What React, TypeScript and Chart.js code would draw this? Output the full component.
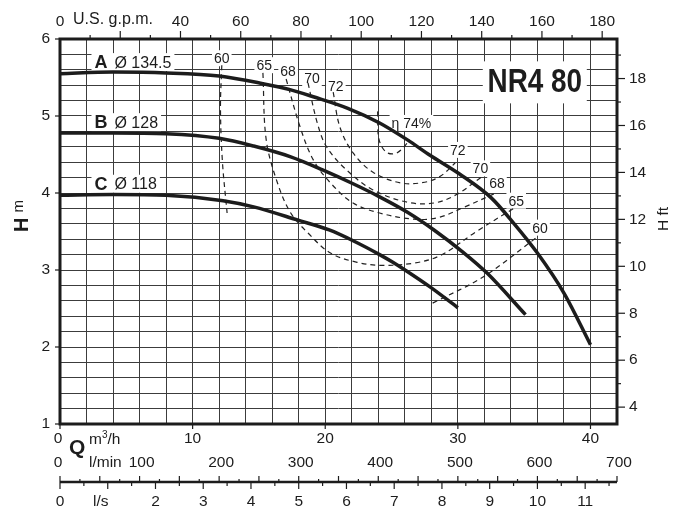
import React, { useEffect, useRef } from 'react';
import { Chart, registerables } from 'chart.js';

Chart.register(...registerables);

const FONT = '"Liberation Sans", Arial, Helvetica, sans-serif';
const INK = '#1c1c1c';

// Pump curves: Q (m3/h) vs H (m)
const flowA = [0, 4, 8, 12, 15.3, 17.4, 19.1, 21.7, 24.1, 26.2, 27.9, 30.1, 32.5, 34.2, 36.0, 38.0, 40.0];
const headA = [5.55, 5.57, 5.56, 5.52, 5.42, 5.34, 5.25, 5.10, 4.91, 4.69, 4.49, 4.25, 3.94, 3.61, 3.22, 2.70, 2.03];
const flowB = [0, 4, 8, 12, 14.6, 17.4, 19.8, 22.1, 24.1, 26.2, 28.2, 30.4, 32.2, 35.1];
const headB = [4.78, 4.78, 4.77, 4.71, 4.61, 4.47, 4.30, 4.12, 3.95, 3.75, 3.52, 3.23, 2.96, 2.42];
const flowC = [0, 4, 8, 12.3, 14.6, 17.9, 20.3, 22.1, 24.1, 25.1, 26.1, 27.9, 30.0];
const headC = [3.97, 3.98, 3.97, 3.90, 3.82, 3.65, 3.52, 3.38, 3.20, 3.10, 2.99, 2.78, 2.51];

const curveNames = ['A', 'B', 'C'];
const curveDiameters = ['Ø 134.5', 'Ø 128', 'Ø 118'];
const curveLabelQ = [2.6, 2.6, 2.6];
const curveLabelH = [5.70, 4.92, 4.12];

// Efficiency iso-lines
const eff60LQ = [12.2, 12.1, 12.25, 12.6];
const eff60LH = [5.66, 5.1, 4.4, 3.74];
const eff60RQ = [28.1, 31.9, 36.0];
const eff60RH = [2.57, 2.91, 3.43];
const eff65Q = [15.3, 15.55, 16.4, 17.4, 18.7, 20.4, 22.4, 24.2, 26.7, 28.7, 31.4, 34.3];
const eff65H = [5.56, 4.69, 4.13, 3.74, 3.48, 3.22, 3.10, 3.06, 3.09, 3.19, 3.50, 3.81];
const eff68Q = [17.05, 18.1, 19.1, 20.4, 22.1, 24.1, 26.7, 28.5, 30.4, 33.0];
const eff68H = [5.48, 4.86, 4.43, 4.13, 3.87, 3.74, 3.66, 3.68, 3.81, 4.01];
const eff70Q = [18.7, 19.4, 20.1, 21.6, 23.6, 26.2, 28.2, 29.9, 31.8];
const eff70H = [5.43, 4.91, 4.60, 4.30, 4.04, 3.88, 3.87, 3.98, 4.21];
const eff72Q = [20.6, 21.1, 22.1, 23.6, 25.7, 27.5, 28.7, 29.8];
const eff72H = [5.31, 4.86, 4.52, 4.27, 4.13, 4.14, 4.22, 4.39];
const eff74Q = [23.95, 24.05, 24.6, 25.4, 26.4];
const eff74H = [5.06, 4.70, 4.53, 4.52, 4.69];

const effLabels = ['60', '65', '68', '70', '72', 'η 74%', '72', '70', '68', '65', '60'];
const effLabelQ = [12.2, 15.4, 17.2, 19.0, 20.8, 26.5, 30.0, 31.7, 32.95, 34.4, 36.2];
const effLabelH = [5.75, 5.66, 5.58, 5.49, 5.39, 4.91, 4.56, 4.32, 4.13, 3.90, 3.55];

// Axes
const qMax = 42;
const hMin = 1;
const hMax = 6;
const qTicks = [0, 10, 20, 30, 40];
const hTicks = [1, 2, 3, 4, 5, 6];
const ftTicks = [4, 6, 8, 10, 12, 14, 16, 18];
const gpmTicks = [0, 40, 60, 80, 100, 120, 140, 160, 180];
const lminTicks = [0, 100, 200, 300, 400, 500, 600, 700];
const lsTicks = [0, 2, 3, 4, 5, 6, 7, 8, 9, 10, 11];

const M_TO_FT = 3.28084;
const M3H_TO_GPM = 4.40287;
const M3H_TO_LMIN = 1000 / 60;
const M3H_TO_LS = 1 / 3.6;

const pts = (xs: number[], ys: number[]) => xs.map((x, i) => ({ x, y: ys[i] }));

const overlay = {
  id: 'overlay',
  beforeDatasetsDraw(chart: any) {
    const ctx = chart.ctx;
    const xs = chart.scales.x;
    const ys = chart.scales.y;
    ctx.save();
    ctx.textBaseline = 'middle';
    ctx.textAlign = 'left';
    // curve labels
    curveNames.forEach((n, i) => {
      const px = xs.getPixelForValue(curveLabelQ[i]);
      const py = ys.getPixelForValue(curveLabelH[i]);
      ctx.font = `bold 18px ${FONT}`;
      const w1 = ctx.measureText(n).width;
      ctx.font = `16px ${FONT}`;
      const w2 = ctx.measureText(curveDiameters[i]).width;
      const gap = 7;
      ctx.fillStyle = '#fff';
      ctx.fillRect(px - 3, py - 9, w1 + gap + w2 + 6, 18);
      ctx.fillStyle = INK;
      ctx.font = `bold 18px ${FONT}`;
      ctx.fillText(n, px, py + 1);
      ctx.font = `16px ${FONT}`;
      ctx.fillText(curveDiameters[i], px + w1 + gap, py + 1);
    });
    // efficiency labels
    ctx.font = `14px ${FONT}`;
    ctx.textAlign = 'center';
    effLabels.forEach((t, i) => {
      const px = xs.getPixelForValue(effLabelQ[i]);
      const py = ys.getPixelForValue(effLabelH[i]);
      const w = ctx.measureText(t).width;
      ctx.fillStyle = '#fff';
      ctx.fillRect(px - w / 2 - 2, py - 8, w + 4, 16);
      ctx.fillStyle = INK;
      ctx.fillText(t, px, py + 1);
    });
    // title
    const tx = xs.getPixelForValue(35.8);
    const ty = ys.getPixelForValue(5.45);
    ctx.fillStyle = '#fff';
    ctx.fillRect(tx - 52, ty - 20, 104, 42);
    ctx.save();
    ctx.translate(tx, ty + 1);
    ctx.scale(0.82, 1);
    ctx.fillStyle = INK;
    ctx.font = `bold 34px ${FONT}`;
    ctx.textAlign = 'center';
    ctx.fillText('NR4 80', 0, 0);
    ctx.restore();
    ctx.restore();
  },
  afterDraw(chart: any) {
    const ctx = chart.ctx;
    const xs = chart.scales.x;
    const ys = chart.scales.y;
    const { left, right, top, bottom } = chart.chartArea;
    ctx.save();
    ctx.strokeStyle = INK;
    ctx.fillStyle = INK;
    const line = (x1: number, y1: number, x2: number, y2: number, w = 1) => {
      ctx.lineWidth = w;
      ctx.beginPath();
      ctx.moveTo(x1, y1);
      ctx.lineTo(x2, y2);
      ctx.stroke();
    };
    // frame
    ctx.lineWidth = 3;
    ctx.strokeRect(left, top, right - left, bottom - top);

    const TF = `15.5px ${FONT}`;
    ctx.font = TF;
    ctx.textBaseline = 'middle';

    // left axis H m
    ctx.textAlign = 'right';
    hTicks.forEach((h) => {
      const py = ys.getPixelForValue(h);
      line(left - 5, py, left, py, 1.2);
      ctx.fillText(String(h), left - 10, py);
    });

    // right axis H ft
    ctx.textAlign = 'left';
    for (let f = 4; f <= 19; f++) {
      const py = ys.getPixelForValue(f / M_TO_FT);
      line(right, py, right + (f % 2 === 0 ? 8 : 4), py, 1.2);
    }
    ftTicks.forEach((f) => {
      const py = ys.getPixelForValue(f / M_TO_FT);
      ctx.fillText(String(f), right + 12, py);
    });

    // top axis gpm
    ctx.textAlign = 'center';
    for (let g = 10; g <= 180; g += 10) {
      const px = xs.getPixelForValue(g / M3H_TO_GPM);
      line(px, top, px, top - (g % 20 === 0 ? 8 : 4), 1.2);
    }
    gpmTicks.forEach((g) => {
      const px = xs.getPixelForValue(g / M3H_TO_GPM);
      ctx.fillText(String(g), px, top - 17);
    });
    ctx.textAlign = 'left';
    ctx.font = `16px ${FONT}`;
    ctx.fillText('U.S. g.p.m.', left + 13, top - 19);
    ctx.font = TF;

    // bottom m3/h
    ctx.textAlign = 'center';
    qTicks.forEach((q) => {
      const px = xs.getPixelForValue(q);
      line(px, bottom, px, bottom + 5, 1.2);
      ctx.fillText(String(q), q === 0 ? px - 2 : px, bottom + 15);
    });
    // l/min labels
    lminTicks.forEach((l) => {
      const px = xs.getPixelForValue(l / M3H_TO_LMIN);
      ctx.fillText(String(l), l === 0 ? px - 2 : px + 2, bottom + 39);
    });
    // units
    ctx.textAlign = 'left';
    ctx.fillText('m', left + 29, bottom + 16);
    const mw = ctx.measureText('m').width;
    ctx.font = `10px ${FONT}`;
    ctx.fillText('3', left + 29 + mw, bottom + 11);
    const sw = ctx.measureText('3').width;
    ctx.font = TF;
    ctx.fillText('/h', left + 29 + mw + sw, bottom + 16);
    ctx.fillText('l/min', left + 29, bottom + 39);
    ctx.font = `bold 21px ${FONT}`;
    ctx.fillText('Q', left + 9, bottom + 24);

    // l/s axis line
    const axY = bottom + 58;
    line(left, axY, right, axY, 2.5);
    for (let l = 0; l <= 700; l += 25) {
      const px = xs.getPixelForValue(l / M3H_TO_LMIN);
      line(px, axY, px, axY - (l % 50 === 0 ? 6 : 3), 1.2);
    }
    for (let s = 0; s <= 11.5; s += 0.5) {
      const px = xs.getPixelForValue(s / M3H_TO_LS);
      line(px, axY, px, axY + (Number.isInteger(s) ? 7 : 4), 1.2);
    }
    ctx.font = TF;
    ctx.textAlign = 'center';
    lsTicks.forEach((s) => {
      const px = xs.getPixelForValue(s / M3H_TO_LS);
      ctx.fillText(String(s), px, axY + 20);
    });
    ctx.fillText('l/s', xs.getPixelForValue(1 / M3H_TO_LS) - 7, axY + 20);

    // H m title
    ctx.save();
    ctx.translate(21, 216);
    ctx.rotate(-Math.PI / 2);
    ctx.textAlign = 'left';
    ctx.font = `bold 20px ${FONT}`;
    const hw = ctx.measureText('H').width;
    ctx.font = `15px ${FONT}`;
    const mw2 = ctx.measureText('m').width;
    const start = -(hw + 5 + mw2) / 2;
    ctx.font = `bold 20px ${FONT}`;
    ctx.fillText('H', start, 1);
    ctx.font = `15px ${FONT}`;
    ctx.fillText('m', start + hw + 5, -2);
    ctx.restore();

    // H ft title
    ctx.save();
    ctx.translate(664, 219);
    ctx.rotate(-Math.PI / 2);
    ctx.textAlign = 'center';
    ctx.font = `15.5px ${FONT}`;
    ctx.fillText('H ft', 0, 0);
    ctx.restore();

    ctx.restore();
  },
};

export default function App() {
  const ref = useRef<HTMLCanvasElement | null>(null);
  useEffect(() => {
    document.body.style.margin = '0';
    if (!ref.current) return;
    const solid = (data: any) => ({
      data,
      borderColor: INK,
      borderWidth: 3.5,
      pointRadius: 0,
      cubicInterpolationMode: 'monotone' as const,
      fill: false,
    });
    const dashed = (data: any) => ({
      data,
      borderColor: '#222',
      borderWidth: 1.2,
      borderDash: [5, 4],
      pointRadius: 0,
      tension: 0.35,
      fill: false,
    });
    const chart = new Chart(ref.current, {
      type: 'line',
      data: {
        datasets: [
          solid(pts(flowA, headA)),
          solid(pts(flowB, headB)),
          solid(pts(flowC, headC)),
          dashed(pts(eff60LQ, eff60LH)),
          dashed(pts(eff60RQ, eff60RH)),
          dashed(pts(eff65Q, eff65H)),
          dashed(pts(eff68Q, eff68H)),
          dashed(pts(eff70Q, eff70H)),
          dashed(pts(eff72Q, eff72H)),
          dashed(pts(eff74Q, eff74H)),
        ] as any,
      },
      options: {
        responsive: false,
        animation: false,
        devicePixelRatio: 1,
        layout: { padding: { left: 60, right: 57, top: 39, bottom: 87 } },
        plugins: { legend: { display: false }, tooltip: { enabled: false } },
        scales: {
          x: {
            type: 'linear',
            min: 0,
            max: qMax,
            ticks: { display: false, stepSize: 2 },
            grid: { color: '#3c3c3c', lineWidth: 1, drawTicks: false },
            border: { display: false },
          },
          y: {
            type: 'linear',
            min: hMin,
            max: hMax,
            ticks: { display: false, stepSize: 0.2 },
            grid: { color: '#3c3c3c', lineWidth: 1, drawTicks: false },
            border: { display: false },
          },
        },
      },
      plugins: [overlay],
    });
    return () => chart.destroy();
  }, []);
  return (
    <div style={{ width: 674, height: 511, background: '#fff' }}>
      <canvas ref={ref} width={674} height={511} />
    </div>
  );
}
